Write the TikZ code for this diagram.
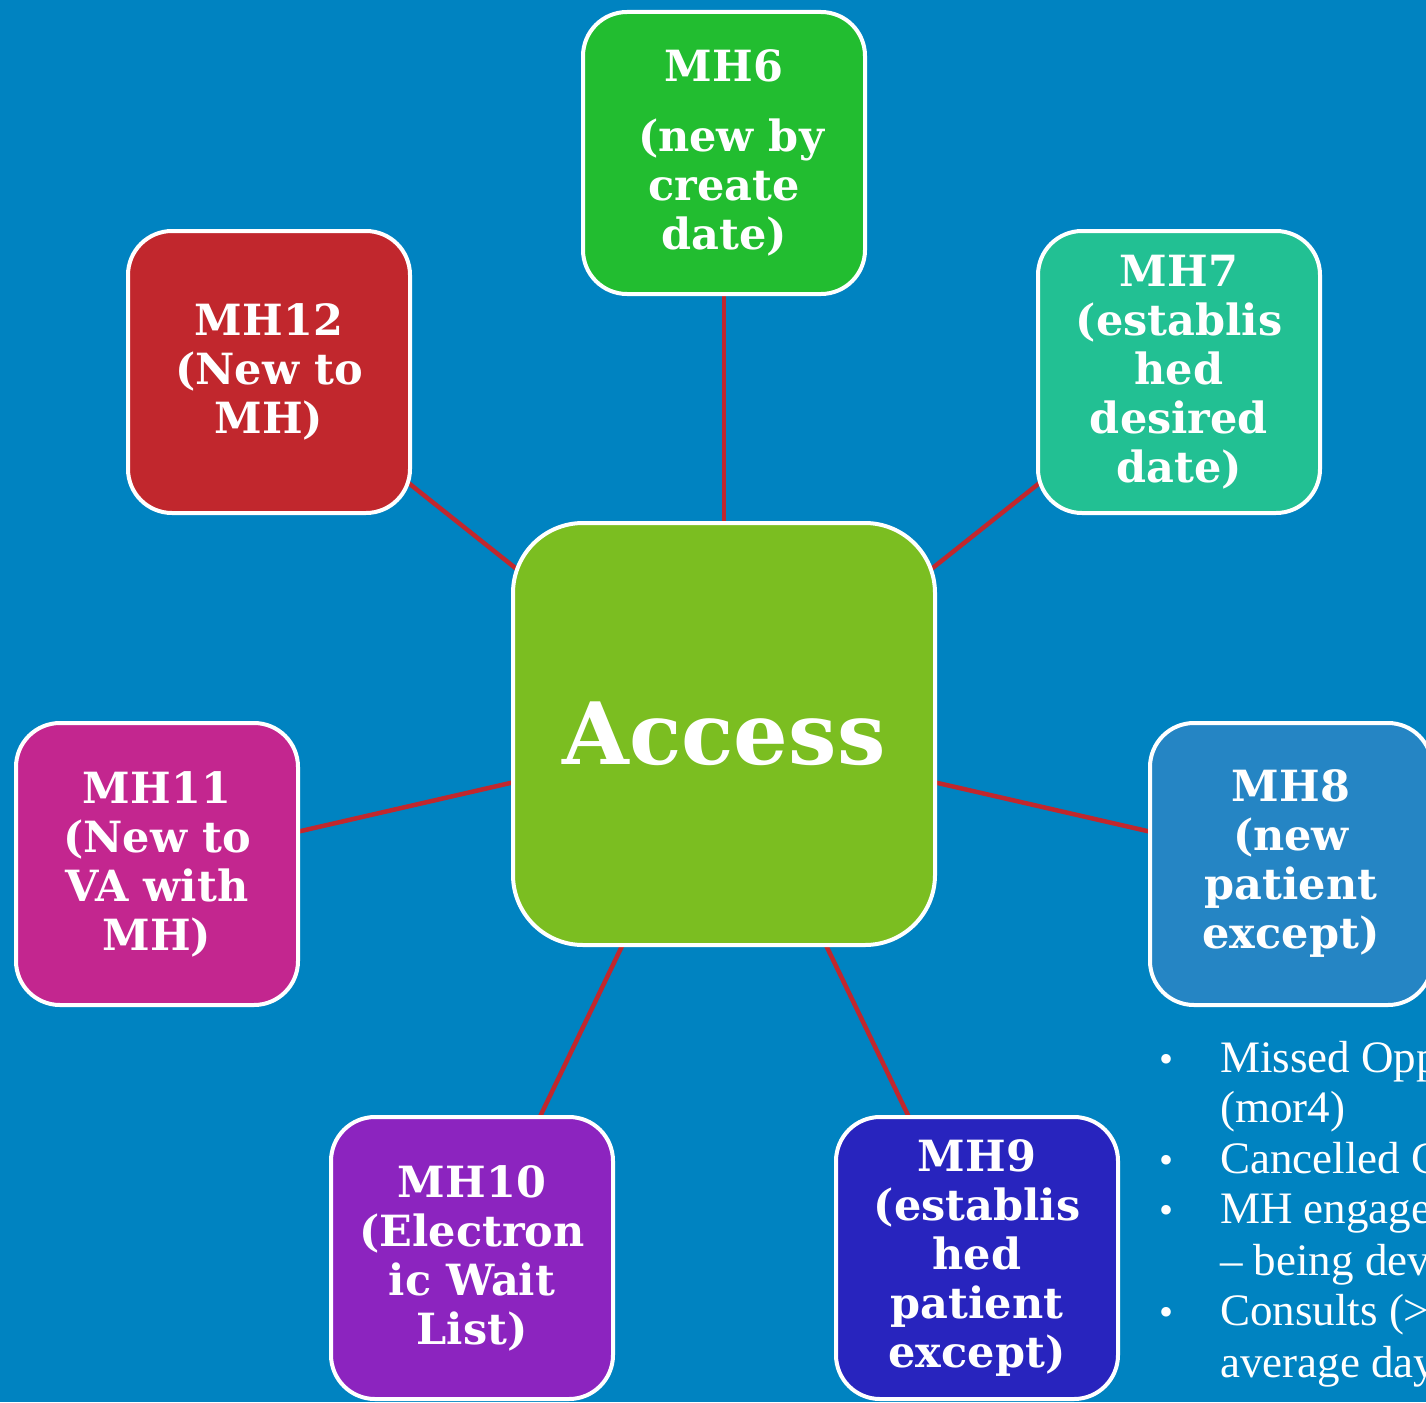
\documentclass[tikz,border=0pt]{standalone}
\usepackage{fontspec}
\usetikzlibrary{backgrounds}
\newfontfamily\boxfont{DejaVu Serif}
\newfontfamily\listfont{Liberation Serif}
\definecolor{bg}{RGB}{0,131,193}
\definecolor{linkred}{RGB}{193,39,45}
\definecolor{accessgreen}{RGB}{123,190,33}
\definecolor{cmhsix}{RGB}{34,189,48}
\definecolor{cmhseven}{RGB}{34,192,147}
\definecolor{cmhtwelve}{RGB}{193,39,45}
\definecolor{cmheleven}{RGB}{195,38,143}
\definecolor{cmheight}{RGB}{37,133,196}
\definecolor{cmhten}{RGB}{140,36,191}
\definecolor{cmhnine}{RGB}{40,36,190}
\tikzset{
  mhbox/.style={draw=white, line width=4pt, rounded corners=44pt,
    minimum width=282pt, minimum height=282pt, inner sep=0pt,
    align=center, text=white,
    font=\boxfont\bfseries\fontsize{43}{49}\selectfont},
  accessbox/.style={draw=white, line width=4pt, rounded corners=70pt,
    minimum width=422pt, minimum height=422pt, inner sep=0pt,
    text=white, fill=accessgreen,
    font=\boxfont\bfseries\fontsize{86}{90}\selectfont},
  link/.style={draw=linkred, line width=4.5pt},
  listtext/.style={text=white, font=\listfont\fontsize{45}{51}\selectfont,
    anchor=base west, inner sep=0pt},
  bulletmark/.style={text=white, font=\listfont\fontsize{40}{51}\selectfont,
    anchor=base, inner sep=0pt},
}
\begin{document}
\begin{tikzpicture}[x=1pt,y=-1pt]
\useasboundingbox (0,0) rectangle (1426,1402);
\begin{scope}
\clip (0,0) rectangle (1426,1402);
\node[accessbox] (access) at (724,734) {Access};
\node[mhbox, fill=cmhsix] (mh6) at (724,153) {MH6\\[21pt]\hspace*{14pt}(new by\\create\\date)};
\node[mhbox, fill=cmhseven] (mh7) at (1179,372) {MH7\\(establis\\hed\\desired\\date)};
\node[mhbox, fill=cmhtwelve] (mh12) at (269,372) {MH12\\(New to\\MH)};
\node[mhbox, fill=cmheleven] (mh11) at (157,864) {MH11\\(New to\\VA with\\MH)};
\node[mhbox, fill=cmheight] (mh8) at (1291,864) {MH8\\(new\\patient\\except)};
\node[mhbox, fill=cmhten] (mh10) at (472,1258) {MH10\\(Electron\\ic Wait\\List)};
\node[mhbox, fill=cmhnine] (mh9) at (977,1258) {MH9\\(establis\\hed\\patient\\except)};
\node[bulletmark] (d1) at (1166,1072) {•};
\node[bulletmark] (d2) at (1166,1173) {•};
\node[bulletmark] (d3) at (1166,1223) {•};
\node[bulletmark] (d4) at (1166,1325) {•};
\node[listtext] (t1) at (1220,1072) {Missed Opp};
\node[listtext] (t2) at (1220,1122) {(mor4)};
\node[listtext] (t3) at (1220,1173) {Cancelled C};
\node[listtext] (t4) at (1220,1223) {MH engage};
\node[listtext] (t5) at (1220,1275) {– being dev};
\node[listtext] (t6) at (1220,1325) {Consults (>};
\node[listtext] (t7) at (1220,1377) {average day};
\end{scope}
\begin{pgfonlayer}{background}
\fill[bg] (0,0) rectangle (1426,1402);
\draw[link] (access.center) -- (mh6.center);
\draw[link] (access.center) -- (mh7.center);
\draw[link] (access.center) -- (mh12.center);
\draw[link] (access.center) -- (mh11.center);
\draw[link] (access.center) -- (mh8.center);
\draw[link] (access.center) -- (mh10.center);
\draw[link] (access.center) -- (mh9.center);
\end{pgfonlayer}
\end{tikzpicture}
\end{document}
